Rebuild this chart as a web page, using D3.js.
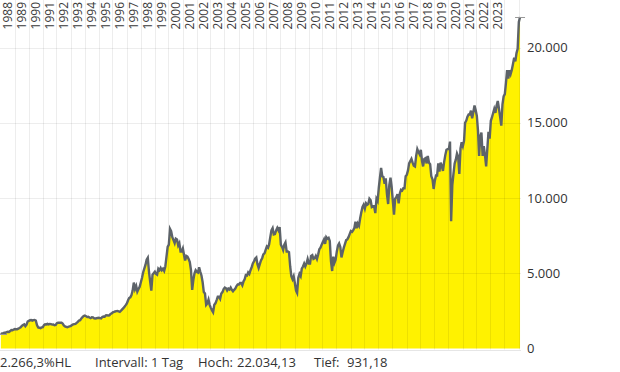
<!DOCTYPE html>
<html lang="de">
<head>
<meta charset="UTF-8">
<title>Chart</title>
<script src="https://d3js.org/d3.v7.min.js"></script>
<style>
  body {margin: 0; background: #fff;}
  svg {display: block;}
  text {font-family: "Open Sans", sans-serif; fill: #333;}
</style>
</head>
<body>
<script>
const width = 620;
const height = 372;

// monthly values, Jan 1988 .. Feb 2025
const dax1988to1997 = [
  955, 1010, 1020, 1045, 1050, 1080, 1110, 1100, 1160, 1230, 1215, 1260,
  1290, 1280, 1275, 1320, 1360, 1410, 1500, 1560, 1600, 1480, 1590, 1790,
  1840, 1880, 1895, 1850, 1880, 1900, 1860, 1560, 1400, 1380, 1350, 1400,
  1420, 1560, 1610, 1600, 1640, 1600, 1630, 1620, 1590, 1600, 1550, 1570,
  1680, 1715, 1710, 1720, 1715, 1650, 1540, 1470, 1440, 1410, 1450, 1470,
  1500, 1560, 1600, 1620, 1640, 1700, 1770, 1860, 1880, 2000, 2080, 2160,
  2190, 2150, 2090, 2110, 2060, 2020, 2080, 2070, 2000, 1990, 2010, 2030,
  2040, 2020, 2000, 2090, 2120, 2110, 2200, 2210, 2190, 2200, 2300, 2330,
  2400, 2430, 2460, 2480, 2490, 2470, 2440, 2510, 2600, 2680, 2780, 2880,
  3000, 3200, 3350, 3400, 3550, 3850, 4380, 3950, 4150, 3780, 3950, 4100
];
const dax1998to2007 = [
  4400, 4700, 5050, 5300, 5550, 5900, 6030, 5100, 4450, 3850, 4900, 5000,
  5100, 4950, 4900, 5300, 5200, 5350, 5200, 5300, 5150, 5450, 6100, 6750,
  6900, 7950, 7800, 7400, 7200, 7000, 7300, 7250, 6850, 7000, 6450, 6450,
  6650, 6200, 5850, 6150, 6100, 5950, 5750, 5200, 3900, 4550, 5000, 5200,
  5100, 5050, 5400, 5100, 4850, 4400, 3750, 3650, 2900, 3000, 3250, 2900,
  2700, 2520, 2400, 2900, 3000, 3220, 3450, 3450, 3300, 3650, 3750, 3950,
  4050, 4000, 3850, 3980, 3920, 4050, 3900, 3800, 3900, 3980, 4150, 4250,
  4250, 4350, 4350, 4200, 4450, 4600, 4880, 4850, 5050, 4950, 5200, 5400,
  5650, 5800, 5970, 6050, 5600, 5350, 5600, 5850, 6000, 6250, 6320, 6550,
  6780, 6700, 6920, 7400, 7850, 8000, 7580, 7600, 7850, 8020, 7850, 8060
];
const dax2008to2017 = [
  6900, 6750, 6550, 6900, 7050, 6450, 6450, 6400, 5450, 4800, 4600, 4800,
  4350, 3850, 3700, 4700, 4950, 4800, 5300, 5450, 5650, 5450, 5650, 5950,
  5650, 5650, 6150, 6200, 5950, 6000, 6150, 5950, 6250, 6600, 6700, 6900,
  7080, 7250, 6950, 7400, 7300, 7350, 7150, 5800, 5150, 6100, 5700, 5900,
  6450, 6850, 6980, 6750, 6050, 6400, 6700, 6950, 7200, 7250, 7400, 7600,
  7800, 7750, 7850, 8000, 8420, 8000, 8300, 8150, 8650, 9050, 9400, 9550,
  9300, 9650, 9550, 9600, 9950, 9850, 9400, 9450, 9450, 9000, 9950, 9800,
  10700, 11400, 12000, 11450, 11400, 10950, 11300, 10250, 9600, 10850, 11350, 10750,
  9800, 8900, 9950, 10050, 10250, 9650, 10300, 10550, 10500, 10650, 10650, 11450,
  11550, 11850, 12300, 12450, 12600, 12350, 12150, 12100, 12800, 13250, 13050, 12900
];
const dax2018to2025 = [
  13200, 12450, 12100, 12600, 12650, 12300, 12800, 12350, 12250, 11450, 11250, 10600,
  11150, 11500, 11500, 12300, 11750, 12350, 12150, 11800, 12400, 12850, 13200, 13250,
  13250, 13750, 8450, 10850, 11600, 12300, 12550, 12950, 12750, 11600, 13300, 13700,
  13450, 13800, 15000, 15150, 15400, 15550, 15550, 15800, 15300, 15700, 16150, 15850,
  15450, 14450, 12800, 14100, 14350, 12800, 13450, 12850, 12100, 13250, 14400, 13950,
  15130, 15370, 15630, 15920, 15660, 16150, 16450, 15950, 15390, 14810, 16220, 16750,
  16900, 17680, 18490, 17930, 18500, 18240, 18510, 18910, 19320, 19080, 19630, 19910,
  21700, 22030
];

const yearLabels = d3.range(1988, 2024);
const yTicks = [0, 5000, 10000, 15000, 20000];
const lowValue = 931.18;
const highValue = 22034.13;
const footer = [
  {text: "2.266,3%HL", x: 0},
  {text: "Intervall: 1 Tag", x: 95},
  {text: "Hoch:", x: 198},
  {text: "22.034,13", x: 237},
  {text: "Tief:", x: 314},
  {text: "931,18", x: 347}
];

const values = dax1988to1997.concat(dax1998to2007, dax2008to2017, dax2018to2025);
const data = values.map((v, i) => ({date: new Date(1988, i, 10), value: v}));

const de = d3.formatLocale({decimal: ",", thousands: ".", grouping: [3], currency: ["", " €"]});
const fmt = de.format(",d");

const svg = d3.select("body").append("svg")
    .attr("width", width).attr("height", height);

const x = d3.scaleTime()
    .domain([new Date(1988, 0, 1), new Date(2025, 0, 1)])
    .range([0.5, 518.5]);
const y = d3.scaleLinear()
    .domain([0, 20000])
    .range([348.5, 47.5]);
const right = 521;

// area + outline
const area = d3.area()
    .x(d => x(d.date)).y0(y(0)).y1(d => y(d.value));
const line = d3.line()
    .x(d => x(d.date)).y(d => y(d.value));

svg.append("path")
    .datum(data)
    .attr("d", area)
    .style("fill", "#fff200");

// grid on top (semi transparent)
svg.append("g").selectAll("line")
    .data(d3.range(1989, 2026))
    .join("line")
    .attr("x1", d => Math.round(x(new Date(d, 0, 1))) + 0.5)
    .attr("x2", d => Math.round(x(new Date(d, 0, 1))) + 0.5)
    .attr("y1", 0).attr("y2", y(0) + 1)
    .style("stroke", "#000").style("stroke-opacity", 0.07);

svg.append("g").selectAll("line")
    .data(yTicks.slice(1))
    .join("line")
    .attr("x1", 0).attr("x2", right)
    .attr("y1", d => Math.round(y(d)) + 0.5)
    .attr("y2", d => Math.round(y(d)) + 0.5)
    .style("stroke", "#000").style("stroke-opacity", 0.07);

svg.append("line")
    .attr("x1", 0).attr("x2", right)
    .attr("y1", 350.5).attr("y2", 350.5)
    .style("stroke", "#e6e6e6");

svg.append("path")
    .datum(data)
    .attr("d", line)
    .style("fill", "none")
    .style("stroke", "#5d6369")
    .style("stroke-width", 2.4)
    .style("stroke-linejoin", "miter");

// high / low markers
const last = data[data.length - 1].date;
svg.append("line")
    .attr("x1", x(last) - 5).attr("x2", x(last) + 5)
    .attr("y1", Math.round(y(highValue)) + 0.5).attr("y2", Math.round(y(highValue)) + 0.5)
    .style("stroke", "#999");
svg.append("line")
    .attr("x1", x(last)).attr("x2", x(last))
    .attr("y1", y(highValue)).attr("y2", y(data[data.length - 1].value))
    .style("stroke", "#999");
svg.append("line")
    .attr("x1", 0).attr("x2", 7)
    .attr("y1", Math.round(y(lowValue)) + 0.5).attr("y2", Math.round(y(lowValue)) + 0.5)
    .style("stroke", "#999");

// year labels
svg.append("g").selectAll("text")
    .data(yearLabels)
    .join("text")
    .attr("transform", d => `translate(${x(new Date(d, 6, 1)) + 4.5},2) rotate(-90)`)
    .attr("text-anchor", "end")
    .style("font-size", "12px")
    .style("fill", "#3a3a3a")
    .text(d => d);

// y axis labels
svg.append("g").selectAll("text")
    .data(yTicks)
    .join("text")
    .attr("x", 527)
    .attr("y", d => y(d))
    .attr("dy", "0.35em")
    .style("font-size", "13px")
    .text(d => fmt(d));

// footer
svg.append("g").selectAll("text")
    .data(footer)
    .join("text")
    .attr("x", d => d.x)
    .attr("y", 367)
    .style("font-size", "13px")
    .text(d => d.text);
</script>
</body>
</html>
